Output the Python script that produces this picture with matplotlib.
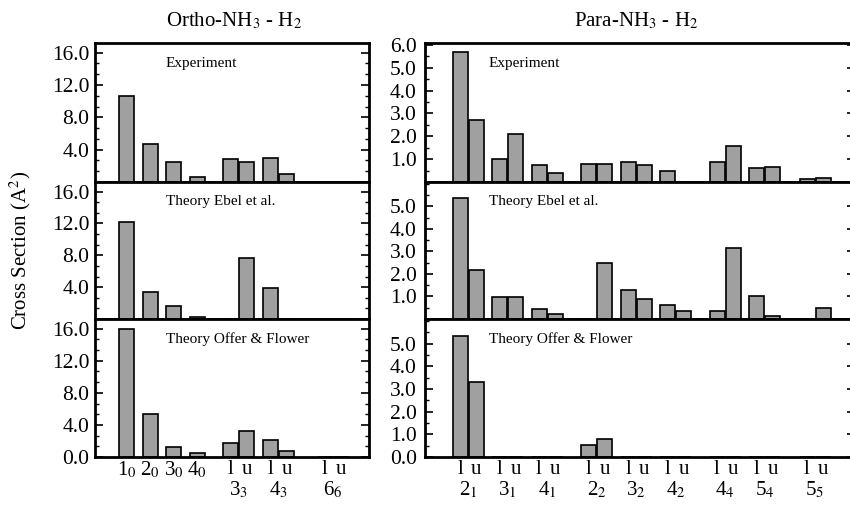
import matplotlib.pyplot as plt
from matplotlib.ticker import FixedLocator, MultipleLocator, FormatStrFormatter
from matplotlib.transforms import blended_transform_factory

plt.rcParams['font.family'] = ['Liberation Serif', 'DejaVu Serif']
plt.rcParams['mathtext.fontset'] = 'stix'

W, H = 850, 511

# ---- data (cross sections, A^2) ----
panel_names = ['Experiment', 'Theory Ebel et al.', 'Theory Offer & Flower']

# Ortho-NH3 - H2: single transitions 1_0..4_0, then l/u pairs 3_3, 4_3, 6_6
ortho_single_labels = ['1$_0$', '2$_0$', '3$_0$', '4$_0$']
ortho_pair_labels = ['3$_3$', '4$_3$', '6$_6$']
ortho_single = [
    [10.6, 4.7, 2.45, 0.65],
    [12.2, 3.45, 1.6, 0.3],
    [15.9, 5.3, 1.25, 0.5],
]
ortho_l = [
    [2.85, 3.0, 0.0],
    [0.0, 3.95, 0.0],
    [1.75, 2.1, 0.0],
]
ortho_u = [
    [2.45, 1.05, 0.0],
    [7.6, 0.0, 0.0],
    [3.3, 0.75, 0.0],
]

# Para-NH3 - H2: l/u pairs
para_pair_labels = ['2$_1$', '3$_1$', '4$_1$', '2$_2$', '3$_2$', '4$_2$',
                    '4$_4$', '5$_4$', '5$_5$']
para_l = [
    [5.7, 1.0, 0.75, 0.78, 0.88, 0.5, 0.87, 0.6, 0.12],
    [5.38, 0.97, 0.43, 0.0, 1.28, 0.63, 0.36, 1.03, 0.0],
    [5.32, 0.0, 0.0, 0.52, 0.0, 0.0, 0.0, 0.0, 0.0],
]
para_u = [
    [2.72, 2.12, 0.41, 0.78, 0.73, 0.0, 1.56, 0.66, 0.18],
    [2.17, 0.97, 0.24, 2.47, 0.89, 0.37, 3.14, 0.15, 0.47],
    [3.3, 0.0, 0.0, 0.81, 0.0, 0.0, 0.0, 0.0, 0.0],
]

ortho_ticks = [[4, 8, 12, 16], [4, 8, 12, 16], [0, 4, 8, 12, 16]]
para_ticks = [[1, 2, 3, 4, 5, 6], [1, 2, 3, 4, 5], [0, 1, 2, 3, 4, 5]]

# ---- layout (pixel units inside each axes) ----
single_x = [31.5, 55, 78.5, 102]
ortho_pair_x = [135.5, 175.5, 230]
para_pair_x = [35, 74.5, 114, 163.5, 203, 242.5, 292, 331.5, 382]
du = 16
bw = 15
bar_kw = dict(width=bw, color='#a0a0a0', edgecolor='black', linewidth=1.2)

panel_tops = [43, 182, 319]
panel_h = [139, 137, 138]

fig = plt.figure(figsize=(W / 100, H / 100), dpi=100)


def add_panel(x0, y0, w, h):
    return fig.add_axes([x0 / W, 1 - (y0 + h) / H, w / W, h / H])


def style(ax, ticks, minor, pad):
    ax.yaxis.set_major_locator(FixedLocator(ticks))
    ax.yaxis.set_minor_locator(MultipleLocator(minor))
    ax.yaxis.set_major_formatter(FormatStrFormatter('%.1f'))
    ax.set_xticks([])
    ax.tick_params(axis='y', which='both', direction='in', left=True, right=True,
                   labelsize=15.5, pad=pad)
    ax.tick_params(axis='y', which='major', length=6, width=1.2)
    ax.tick_params(axis='y', which='minor', length=3, width=1.0)
    for sp in ax.spines.values():
        sp.set_linewidth(2)


def bottom_labels(ax, pair_x, pair_labels):
    tr = blended_transform_factory(ax.transData, ax.transAxes)
    for x, lab in zip(pair_x, pair_labels):
        ax.text(x, -0.094, 'l', transform=tr, ha='center', va='center', fontsize=15)
        ax.text(x + du, -0.094, 'u', transform=tr, ha='center', va='center', fontsize=15)
        ax.text(x + du / 2, -0.24, lab, transform=tr, ha='center', va='center', fontsize=15)
    return tr


for i in range(3):
    # left: ortho
    ax = add_panel(95, panel_tops[i], 274, panel_h[i])
    ax.bar(single_x, ortho_single[i], **bar_kw)
    ax.bar(ortho_pair_x, ortho_l[i], **bar_kw)
    ax.bar([x + du for x in ortho_pair_x], ortho_u[i], **bar_kw)
    ax.set_xlim(0, 274)
    ax.set_ylim(0, 17.2)
    style(ax, ortho_ticks[i], 4 / 3, 4)
    ax.text(0.259, 0.855, panel_names[i], transform=ax.transAxes,
            ha='left', va='center', fontsize=11)
    if i == 2:
        tr = bottom_labels(ax, ortho_pair_x, ortho_pair_labels)
        for x, lab in zip(single_x, ortho_single_labels):
            ax.text(x, -0.094, lab, transform=tr, ha='center', va='center', fontsize=15)

    # right: para (right edge runs off the page, as in the original scan)
    ax = add_panel(425, panel_tops[i], 430, panel_h[i])
    ax.bar(para_pair_x, para_l[i], **bar_kw)
    ax.bar([x + du for x in para_pair_x], para_u[i], **bar_kw)
    ax.set_xlim(0, 430)
    ax.set_ylim(0, 6.08)
    style(ax, para_ticks[i], 0.5, 6)
    ax.text(0.148, 0.855, panel_names[i], transform=ax.transAxes,
            ha='left', va='center', fontsize=11)
    if i == 2:
        bottom_labels(ax, para_pair_x, para_pair_labels)

fig.text(234 / W, 1 - 21 / H, 'Ortho-NH$_3$ - H$_2$', ha='center', va='center', fontsize=15)
fig.text(636 / W, 1 - 21 / H, 'Para-NH$_3$ - H$_2$', ha='center', va='center', fontsize=15)
fig.text(20 / W, 1 - 250 / H, 'Cross Section (A$^2$)', rotation=90,
         ha='center', va='center', fontsize=15)

fig.savefig('out.png', dpi=100)
